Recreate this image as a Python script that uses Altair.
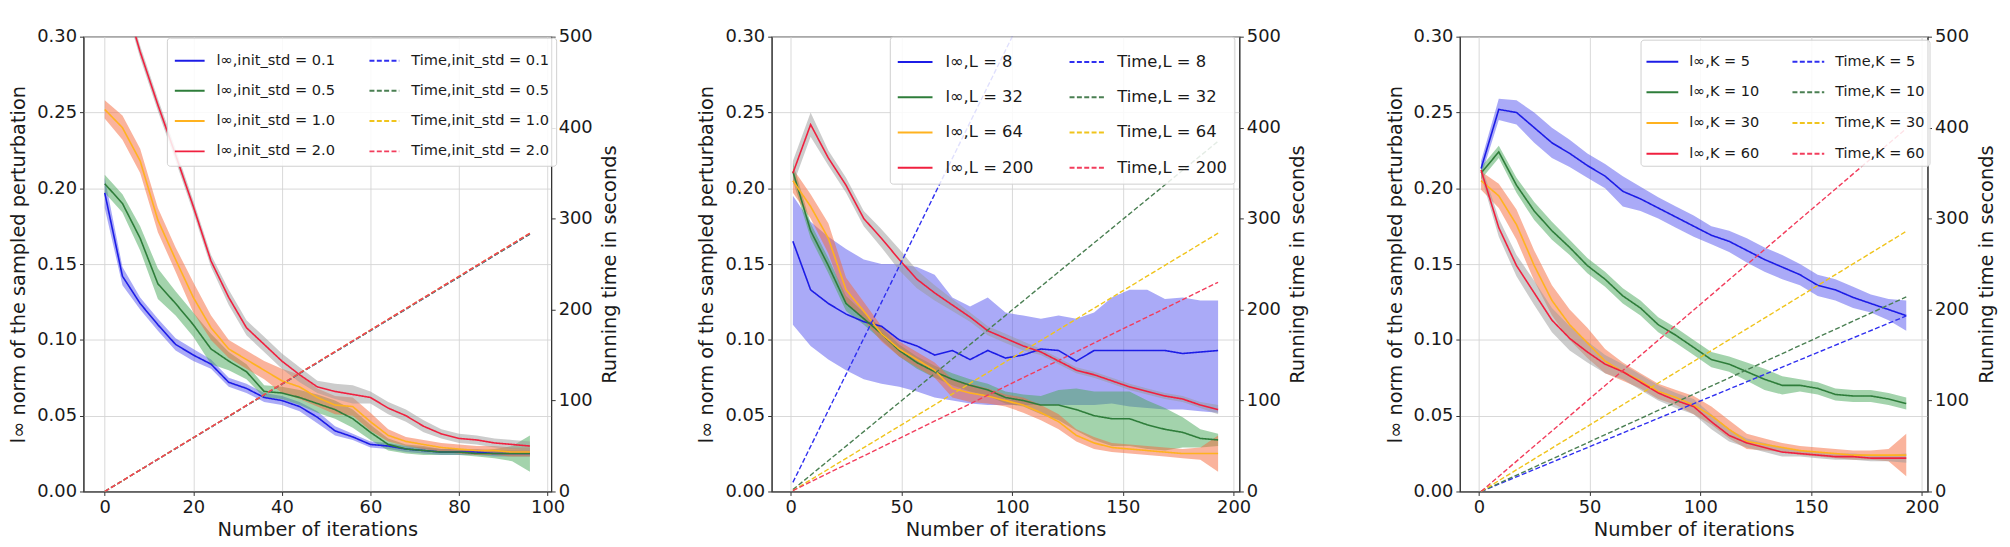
import altair as alt
import pandas as pd

FONT = "DejaVu Sans"

# ---------------- Panel 1 : init_std ----------------
P1_ITER = [0, 4, 8, 12, 16, 20, 24, 28, 32, 36, 40, 44, 48, 52, 56, 60, 64, 68, 72, 76, 80, 84, 88, 92, 96]
P1_LABELS = ["0.1", "0.5", "1.0", "2.0"]
P1_B = [0.197, 0.142, 0.124, 0.110, 0.097, 0.090, 0.084, 0.072, 0.068, 0.062, 0.060, 0.056, 0.049,
        0.040, 0.036, 0.031, 0.030, 0.028, 0.027, 0.026, 0.026, 0.026, 0.025, 0.025, 0.025]
P1_G = [0.203, 0.190, 0.167, 0.137, 0.124, 0.110, 0.094, 0.086, 0.079, 0.066, 0.065, 0.062, 0.058,
        0.054, 0.048, 0.039, 0.031, 0.028, 0.027, 0.026, 0.026, 0.025, 0.025, 0.025, 0.025]
P1_O = [0.252, 0.240, 0.218, 0.179, 0.153, 0.128, 0.108, 0.094, 0.087, 0.080, 0.073, 0.069, 0.062,
        0.057, 0.056, 0.046, 0.037, 0.033, 0.031, 0.029, 0.028, 0.027, 0.027, 0.026, 0.026]
P1_R = [0.360, 0.330, 0.290, 0.255, 0.222, 0.188, 0.152, 0.128, 0.108, 0.097, 0.086, 0.077, 0.069,
        0.066, 0.064, 0.062, 0.055, 0.050, 0.043, 0.038, 0.035, 0.034, 0.032, 0.031, 0.030]
P1_B_S = [0.010, 0.006, 0.004, 0.004, 0.004, 0.004, 0.003, 0.003, 0.003, 0.003, 0.003, 0.003, 0.004,
          0.003, 0.002, 0.002, 0.002, 0.002, 0.002, 0.002, 0.002, 0.002, 0.002, 0.002, 0.002]
P1_G_S = [0.006, 0.006, 0.008, 0.010, 0.008, 0.008, 0.010, 0.006, 0.005, 0.004, 0.004, 0.005, 0.006,
          0.006, 0.006, 0.005, 0.004, 0.003, 0.003, 0.002, 0.002, 0.002, 0.003, 0.005, 0.012]
P1_O_S = [0.006, 0.008, 0.008, 0.008, 0.008, 0.010, 0.008, 0.006, 0.006, 0.006, 0.008, 0.008, 0.006,
          0.006, 0.006, 0.006, 0.004, 0.003, 0.003, 0.003, 0.003, 0.003, 0.003, 0.003, 0.003]
P1_R_S = [0.004, 0.004, 0.004, 0.004, 0.004, 0.004, 0.004, 0.005, 0.005, 0.005, 0.005, 0.005, 0.004,
          0.005, 0.006, 0.004, 0.004, 0.004, 0.004, 0.003, 0.003, 0.003, 0.003, 0.003, 0.003]
P1_T_ITER = [0, 96]
P1_T_B = [0, 283]
P1_T_G = [0, 283]
P1_T_O = [0, 284]
P1_T_R = [0, 284]

# ---------------- Panel 2 : L ----------------
P2_ITER = [1, 9, 17, 25, 33, 41, 49, 57, 65, 73, 81, 89, 97, 105, 113, 121, 129, 137, 145, 153,
           161, 169, 177, 185, 193]
P2_LABELS = ["8", "32", "64", "200"]
P2_B = [0.165, 0.133, 0.124, 0.117, 0.112, 0.109, 0.100, 0.096, 0.090, 0.093, 0.087, 0.093, 0.088,
        0.090, 0.094, 0.093, 0.086, 0.093, 0.093, 0.093, 0.093, 0.093, 0.091, 0.092, 0.093]
P2_B_LO = [0.110, 0.096, 0.087, 0.080, 0.074, 0.071, 0.069, 0.066, 0.062, 0.060, 0.058, 0.057, 0.057,
           0.057, 0.057, 0.057, 0.057, 0.057, 0.058, 0.056, 0.055, 0.054, 0.054, 0.053, 0.052]
P2_B_HI = [0.195, 0.178, 0.168, 0.160, 0.153, 0.150, 0.150, 0.148, 0.143, 0.128, 0.122, 0.128, 0.118,
           0.116, 0.114, 0.116, 0.114, 0.118, 0.128, 0.133, 0.133, 0.127, 0.128, 0.126, 0.126]
P2_G = [0.211, 0.172, 0.149, 0.124, 0.114, 0.104, 0.093, 0.085, 0.079, 0.074, 0.070, 0.067, 0.062,
        0.060, 0.057, 0.057, 0.054, 0.050, 0.048, 0.048, 0.044, 0.041, 0.039, 0.035, 0.034]
P2_O = [0.205, 0.188, 0.167, 0.133, 0.119, 0.104, 0.094, 0.087, 0.080, 0.068, 0.065, 0.063, 0.060,
        0.057, 0.052, 0.046, 0.037, 0.032, 0.029, 0.028, 0.027, 0.026, 0.025, 0.025, 0.025]
P2_R = [0.210, 0.242, 0.220, 0.202, 0.180, 0.167, 0.153, 0.140, 0.131, 0.123, 0.115, 0.106, 0.101,
        0.096, 0.092, 0.086, 0.080, 0.077, 0.073, 0.069, 0.066, 0.063, 0.061, 0.057, 0.054]
P2_G_S = [0.006, 0.005, 0.005, 0.005, 0.004, 0.004, 0.004, 0.004, 0.004, 0.004, 0.004, 0.004, 0.004,
          0.004, 0.006, 0.010, 0.014, 0.016, 0.018, 0.018, 0.016, 0.014, 0.010, 0.006, 0.004]
P2_O_S = [0.008, 0.008, 0.010, 0.008, 0.006, 0.005, 0.005, 0.005, 0.005, 0.006, 0.006, 0.005, 0.004,
          0.005, 0.005, 0.005, 0.004, 0.004, 0.003, 0.003, 0.003, 0.003, 0.003, 0.004, 0.012]
P2_R_S = [0.008, 0.008, 0.005, 0.005, 0.005, 0.006, 0.007, 0.006, 0.005, 0.004, 0.003, 0.003, 0.003,
          0.003, 0.002, 0.002, 0.002, 0.002, 0.002, 0.002, 0.002, 0.002, 0.002, 0.002, 0.003]
P2_T_ITER = [1, 193]
P2_T_B = [10, 960]
P2_T_G = [2, 385]
P2_T_O = [1, 284]
P2_T_R = [1, 230]

# ---------------- Panel 3 : K ----------------
P3_ITER = P2_ITER
P3_LABELS = ["5", "10", "30", "60"]
P3_B = [0.213, 0.252, 0.250, 0.240, 0.230, 0.223, 0.215, 0.208, 0.198, 0.193, 0.187, 0.181, 0.175,
        0.169, 0.165, 0.159, 0.153, 0.148, 0.143, 0.136, 0.133, 0.128, 0.124, 0.120, 0.116]
P3_G = [0.210, 0.224, 0.202, 0.185, 0.172, 0.161, 0.149, 0.140, 0.129, 0.121, 0.110, 0.103, 0.095,
        0.087, 0.084, 0.079, 0.074, 0.070, 0.070, 0.068, 0.064, 0.063, 0.063, 0.061, 0.058]
P3_O = [0.205, 0.195, 0.176, 0.149, 0.126, 0.110, 0.098, 0.086, 0.079, 0.073, 0.066, 0.062, 0.057,
        0.050, 0.041, 0.033, 0.031, 0.029, 0.027, 0.026, 0.025, 0.024, 0.024, 0.024, 0.024]
P3_R = [0.212, 0.174, 0.149, 0.131, 0.113, 0.101, 0.092, 0.084, 0.079, 0.072, 0.065, 0.060, 0.056,
        0.046, 0.037, 0.032, 0.029, 0.026, 0.025, 0.024, 0.023, 0.023, 0.022, 0.022, 0.022]
P3_B_S = [0.005, 0.007, 0.008, 0.010, 0.010, 0.009, 0.008, 0.008, 0.010, 0.008, 0.007, 0.007, 0.007,
          0.006, 0.007, 0.008, 0.008, 0.008, 0.007, 0.007, 0.007, 0.007, 0.006, 0.007, 0.010]
P3_G_S = [0.004, 0.004, 0.005, 0.006, 0.006, 0.005, 0.005, 0.005, 0.005, 0.005, 0.005, 0.005, 0.005,
          0.005, 0.005, 0.006, 0.007, 0.006, 0.004, 0.004, 0.004, 0.004, 0.004, 0.004, 0.004]
P3_O_S = [0.006, 0.008, 0.010, 0.010, 0.010, 0.010, 0.010, 0.008, 0.006, 0.005, 0.005, 0.005, 0.006,
          0.006, 0.006, 0.005, 0.004, 0.003, 0.003, 0.003, 0.003, 0.003, 0.003, 0.004, 0.014]
P3_R_S = [0.004, 0.006, 0.007, 0.008, 0.008, 0.008, 0.007, 0.006, 0.005, 0.005, 0.005, 0.005, 0.005,
          0.005, 0.004, 0.003, 0.003, 0.003, 0.002, 0.002, 0.002, 0.002, 0.002, 0.002, 0.003]
P3_T_ITER = [1, 193]
P3_T_B = [0, 193]
P3_T_G = [0, 214]
P3_T_O = [0, 286]
P3_T_R = [0, 399]

LINE_COLORS = ["#1c1ce6", "#2e7d3a", "#ffb21f", "#f0203f"]
TIME_COLORS = ["#2f2ff0", "#4a7f52", "#f0c41c", "#f23d5c"]
BAND_COLORS = ["#5656f0", "#47a85a", "#f5683a", "#9a9a9a"]

Y_TICKS = [0.0, 0.05, 0.10, 0.15, 0.20, 0.25, 0.30]
T_TICKS = [0, 100, 200, 300, 400, 500]
W, H = 471, 458


def sym(m, s):
    return [a - b for a, b in zip(m, s)], [a + b for a, b in zip(m, s)]


def make_panel(iters, means, bands, t_iter, t_vals, prefix, labels, xdom, xticks, leg):
    lin_names = ["l\u221e," + prefix + " = " + lb for lb in labels]
    time_names = ["Time," + prefix + " = " + lb for lb in labels]
    ldf, bdf, tdf = [], [], []
    for k in range(4):
        lo, hi = bands[k]
        for i, x in enumerate(iters):
            ldf.append({"it": x, "v": means[k][i], "s": lin_names[k]})
            bdf.append({"it": x, "lo": lo[i], "hi": hi[i], "b": "b%d" % k})
        for x, t in zip(t_iter, t_vals[k]):
            tdf.append({"it": x, "t": t, "s": time_names[k]})
    ldf, bdf, tdf = pd.DataFrame(ldf), pd.DataFrame(bdf), pd.DataFrame(tdf)

    # legend is filled column by column: first column l-inf, second column time
    dom = lin_names + time_names
    rng = LINE_COLORS + TIME_COLORS
    dash = [[1, 0]] * 4 + [[5, 2.4]] * 4

    legend = alt.Legend(
        title=None, orient="none", legendX=leg["x"], legendY=leg["y"], columns=2,
        symbolType="stroke", symbolStrokeWidth=2, symbolSize=leg["sym"] ** 2,
        labelFontSize=leg["fs"], labelFont=FONT, labelColor="#1a1a1a", labelOffset=leg["off"],
        columnPadding=leg["cp"], rowPadding=leg["rp"], padding=leg["pad"], labelLimit=400,
        fillColor="rgba(255,255,255,0.85)", strokeColor="#d0d0d0", cornerRadius=3,
        direction="vertical",
    )
    cscale = alt.Scale(domain=dom, range=rng)
    dscale = alt.Scale(domain=dom, range=dash)

    xaxis = alt.Axis(values=xticks, title="Number of iterations", grid=True, labelFlush=False,
                     titlePadding=4)
    x = alt.X("it:Q", scale=alt.Scale(domain=xdom, nice=False, zero=False), axis=xaxis)
    ys = alt.Scale(domain=[0, 0.30], nice=False, zero=False)
    yax = alt.Axis(values=Y_TICKS, format=".2f", orient="left", grid=True,
                   title="l\u221e norm of the sampled perturbation", titlePadding=8)
    ts = alt.Scale(domain=[0, 500], nice=False, zero=False)
    tax = alt.Axis(values=T_TICKS, format="d", orient="right", grid=False,
                   title="Running time in seconds", titleAngle=270, titleBaseline="top",
                   titleAlign="center", titleX=50, titleY=H / 2)

    band = alt.Chart(bdf).mark_area(clip=True, opacity=0.5).encode(
        x=x, y=alt.Y("lo:Q", scale=ys, axis=yax), y2="hi:Q",
        fill=alt.Fill("b:N", scale=alt.Scale(domain=["b0", "b1", "b2", "b3"], range=BAND_COLORS),
                      legend=None),
    )
    lin = alt.Chart(ldf).mark_line(clip=True, strokeWidth=1.6).encode(
        x=x, y=alt.Y("v:Q", scale=ys, axis=yax),
        color=alt.Color("s:N", scale=cscale, legend=legend),
        strokeDash=alt.StrokeDash("s:N", scale=dscale, legend=legend),
    )
    tim = alt.Chart(tdf).mark_line(clip=True, strokeWidth=1.4).encode(
        x=x, y=alt.Y("t:Q", scale=ts, axis=tax),
        color=alt.Color("s:N", scale=cscale, legend=legend),
        strokeDash=alt.StrokeDash("s:N", scale=dscale, legend=legend),
    )
    return alt.layer(alt.layer(band, lin), tim).resolve_scale(y="independent").properties(
        width=W, height=H)


p1 = make_panel(P1_ITER, [P1_B, P1_G, P1_O, P1_R],
                [sym(P1_B, P1_B_S), sym(P1_G, P1_G_S), sym(P1_O, P1_O_S), sym(P1_R, P1_R_S)],
                P1_T_ITER, [P1_T_B, P1_T_G, P1_T_O, P1_T_R], "init_std", P1_LABELS,
                [-4.8, 100.8], [0, 20, 40, 60, 80, 100],
                {"x": 84, "y": 1, "sym": 30, "fs": 14.7, "off": 11, "cp": 30, "rp": 7.5, "pad": 7})
p2 = make_panel(P2_ITER, [P2_B, P2_G, P2_O, P2_R],
                [(P2_B_LO, P2_B_HI), sym(P2_G, P2_G_S), sym(P2_O, P2_O_S), sym(P2_R, P2_R_S)],
                P2_T_ITER, [P2_T_B, P2_T_G, P2_T_O, P2_T_R], "L", P2_LABELS,
                [-8.6, 202.6], [0, 50, 100, 150, 200],
                {"x": 119, "y": 0, "sym": 35, "fs": 16.5, "off": 12, "cp": 32, "rp": 8.5, "pad": 7})
p3 = make_panel(P3_ITER, [P3_B, P3_G, P3_O, P3_R],
                [sym(P3_B, P3_B_S), sym(P3_G, P3_G_S), sym(P3_O, P3_O_S), sym(P3_R, P3_R_S)],
                P3_T_ITER, [P3_T_B, P3_T_G, P3_T_O, P3_T_R], "K", P3_LABELS,
                [-8.6, 202.6], [0, 50, 100, 150, 200],
                {"x": 182, "y": 3, "sym": 32, "fs": 14.6, "off": 10, "cp": 29, "rp": 7, "pad": 5})

chart = alt.hconcat(p1, p2, p3, spacing=222, bounds="flush").resolve_scale(
    x="independent", y="independent", color="independent", strokeDash="independent",
    fill="independent",
).resolve_legend(color="independent", strokeDash="independent").properties(
    padding={"left": 0, "top": 17, "right": 5, "bottom": 0}
).configure(font=FONT).configure_view(
    stroke="#333333", strokeWidth=1.1
).configure_axis(
    labelFontSize=18, titleFontSize=19.5, titleFontWeight="normal", labelFont=FONT, titleFont=FONT,
    labelColor="#1a1a1a", titleColor="#1a1a1a", tickColor="#333333", domainColor="#333333",
    tickSize=4, labelPadding=3, gridColor="#d4d4d4", gridWidth=0.9,
)

chart.save("out.html", embed_options={"renderer": "svg", "actions": False})
